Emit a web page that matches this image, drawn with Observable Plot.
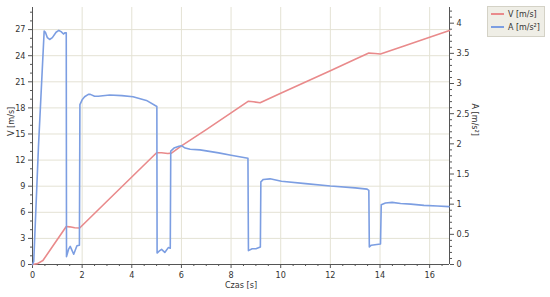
<!DOCTYPE html>
<html>
<head>
<meta charset="utf-8">
<script src="https://cdn.jsdelivr.net/npm/d3@7"></script>
<script src="https://cdn.jsdelivr.net/npm/@observablehq/plot@0.6"></script>
<style>
  body { margin: 0; background: #fff; }
  #wrap { position: relative; width: 550px; height: 297px; }
  #legend { position: absolute; left: 487px; top: 6px; width: 58px; height: 31px;
    background: #efeee6; border: 1px solid #d4d2c6; box-sizing: border-box;
    font-family: "DejaVu Sans Condensed", "DejaVu Sans", sans-serif; font-size: 8.8px; color: #333; }
  .item { position: absolute; left: 3px; display: flex; align-items: center; white-space: nowrap; }
  .sw { width: 13px; height: 2px; margin-right: 4px; }
</style>
</head>
<body>
<div id="wrap">
  <div id="chart"></div>
  <div id="legend"></div>
</div>
<script>
// Velocity V [m/s]
const tV = [0, 0.2, 0.42, 0.8, 1.36, 1.5, 1.7, 1.9, 3.0, 4.0, 5.0, 5.2, 5.45, 5.6, 6.0, 7.0, 8.0, 8.7, 8.9, 9.17, 10.0, 11.0, 12.0, 13.0, 13.55, 13.8, 14.02, 15.0, 16.0, 16.8];
const vV = [0, 0.1, 0.46, 2.04, 4.37, 4.33, 4.22, 4.2, 7.27, 10.06, 12.84, 12.85, 12.75, 12.8, 13.64, 15.5, 17.42, 18.77, 18.7, 18.6, 19.68, 20.98, 22.28, 23.58, 24.3, 24.25, 24.2, 25.15, 26.12, 26.9];
// Acceleration A [m/s²]
const tA = [0, 0.05, 0.24, 0.47, 0.52, 0.6, 0.69, 0.8, 0.95, 1.06, 1.15, 1.25, 1.3, 1.36, 1.37, 1.45, 1.52, 1.66, 1.79, 1.89, 1.91, 2.0, 2.1, 2.25, 2.33, 2.5, 2.65, 3.11, 3.6, 4.05, 4.59, 5.01, 5.02, 5.1, 5.2, 5.33, 5.47, 5.55, 5.57, 5.7, 5.9, 6.0, 6.15, 6.35, 6.75, 7.5, 8.0, 8.68, 8.7, 8.85, 9.0, 9.18, 9.2, 9.3, 9.57, 10.03, 11, 12, 13, 13.48, 13.55, 13.57, 13.65, 14.02, 14.05, 14.22, 14.49, 14.83, 15.24, 15.77, 16.31, 16.78];
const aA = [0, 0.05, 1.95, 3.87, 3.85, 3.76, 3.73, 3.76, 3.85, 3.88, 3.86, 3.82, 3.84, 3.84, 0.13, 0.25, 0.30, 0.17, 0.31, 0.32, 2.65, 2.73, 2.78, 2.82, 2.82, 2.79, 2.79, 2.81, 2.80, 2.78, 2.72, 2.62, 0.19, 0.22, 0.25, 0.20, 0.28, 0.27, 1.88, 1.93, 1.96, 1.97, 1.93, 1.91, 1.90, 1.85, 1.81, 1.76, 0.23, 0.26, 0.26, 0.29, 1.37, 1.41, 1.42, 1.38, 1.34, 1.30, 1.27, 1.25, 1.23, 0.29, 0.32, 0.34, 0.99, 1.02, 1.03, 1.01, 1.0, 0.98, 0.97, 0.96];
// Ticks
const xTicks = [0, 2, 4, 6, 8, 10, 12, 14, 16];
const vTicks = [0, 3, 6, 9, 12, 15, 18, 21, 24, 27];
const aTicks = [0, 0.5, 1, 1.5, 2, 2.5, 3, 3.5, 4];
const seriesNames = ["V [m/s]", "A [m/s²]"];
const colors = ["#e98a8b", "#7c9ee2"];

const vMax = 29.54, aMax = 4.26;
const k = vMax / aMax;

const vData = tV.map((t, i) => ({t, v: vV[i]}));
const aData = tA.map((t, i) => ({t, a: aA[i]}));

const xMinor = d3.range(0, 16.81, 0.5).filter(d => !xTicks.includes(d));
const vMinor = d3.range(0, 29.5, 1).filter(d => !vTicks.includes(d));
const aMinor = d3.range(0, 4.25, 0.1).map(d => Math.round(d * 10) / 10).filter(d => !aTicks.includes(d));
const fmtA = d3.format("~g");
const axisColor = "#555";
const gridColor = "#e4e2d4";

const chart = Plot.plot({
  width: 550,
  height: 297,
  marginLeft: 32,
  marginRight: 101,
  marginTop: 7,
  marginBottom: 33,
  style: {fontFamily: '"DejaVu Sans Condensed", "DejaVu Sans", sans-serif', fontSize: "9px", color: "#333", background: "#fff"},
  x: {domain: [0, 16.8], label: null},
  y: {domain: [0, vMax], label: null},
  marks: [
    Plot.gridX(xTicks.filter(d => d > 0), {stroke: gridColor, strokeOpacity: 1}),
    Plot.gridY(vTicks.filter(d => d > 0), {stroke: gridColor, strokeOpacity: 1}),
    Plot.ruleX([0, 16.8], {stroke: axisColor}),
    Plot.ruleY([0], {stroke: axisColor}),
    Plot.axisX(xTicks, {tickSize: 4, tickPadding: 3, stroke: axisColor, label: null}),
    Plot.axisX(xMinor, {tickSize: 2, tickFormat: () => "", stroke: axisColor, label: null}),
    Plot.axisY(vTicks, {anchor: "left", tickSize: 4, tickPadding: 3, stroke: axisColor, label: null}),
    Plot.axisY(vMinor, {anchor: "left", tickSize: 2, tickFormat: () => "", stroke: axisColor, label: null}),
    Plot.axisY(aTicks.map(a => a * k), {anchor: "right", tickSize: 4, tickPadding: 3, stroke: axisColor, label: null,
      tickFormat: d => fmtA(Math.round(d / k * 10) / 10)}),
    Plot.axisY(aMinor.map(a => a * k), {anchor: "right", tickSize: 2, tickFormat: () => "", stroke: axisColor, label: null}),
    Plot.line(vData, {x: "t", y: "v", stroke: colors[0], strokeWidth: 1.6}),
    Plot.line(aData, {x: "t", y: d => d.a * k, stroke: colors[1], strokeWidth: 1.6}),
    Plot.text(["V [m/s]"], {frameAnchor: "left", dx: -21, rotate: -90, text: d => d, fill: "#333"}),
    Plot.text(["A [m/s²]"], {frameAnchor: "right", dx: 25, rotate: 90, text: d => d, fill: "#333"}),
    Plot.text(["Czas [s]"], {frameAnchor: "bottom", dy: 23, text: d => d, fill: "#333"})
  ]
});
document.getElementById("chart").appendChild(chart);

const legend = document.getElementById("legend");
seriesNames.forEach((name, i) => {
  const item = document.createElement("div");
  item.className = "item";
  item.style.top = (2 + i * 13) + "px";
  item.innerHTML = `<span class="sw" style="background:${colors[i]}"></span><span>${name}</span>`;
  legend.appendChild(item);
});
</script>
</body>
</html>
